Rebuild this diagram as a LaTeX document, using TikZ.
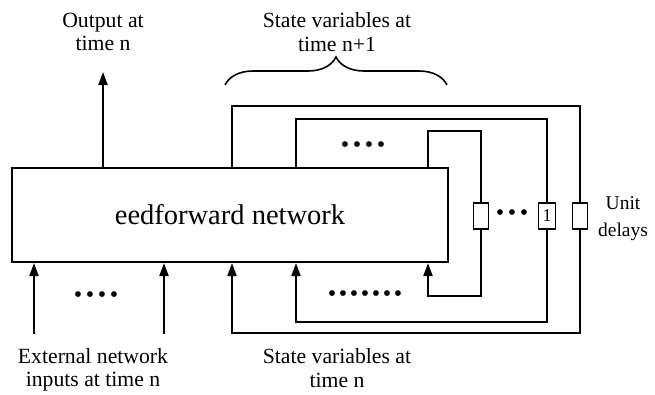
\documentclass[tikz,border=0pt]{standalone}
\usepackage{fontspec}
\setmainfont{Liberation Serif}
\usepackage{tikz}
\usetikzlibrary{positioning, calc, arrows.meta, decorations.pathreplacing}
\newcommand{\dotgap}{\hspace{3.6pt}}
\tikzset{
    netbox/.style={
        draw, line width=2pt, minimum width=436pt, minimum height=94pt,
        inner sep=0pt, font=\fontsize{28.5}{30}\selectfont
    },
    delaybox/.style={
        draw, line width=1.7pt, fill=white, minimum width=15pt,
        minimum height=26pt, inner sep=0pt, font=\fontsize{18}{18}\selectfont
    },
    wire/.style={
        line width=2pt
    },
    feed/.style={
        wire, -{Triangle[length=13pt, width=9pt]}
    },
    lbl/.style={
        align=center, font=\fontsize{21.7}{23.5}\selectfont
    },
    dotrow/.style={
        inner sep=0pt, font=\fontsize{24}{24}\selectfont
    }
}

\begin{document}
\begin{tikzpicture}[x=1pt, y=-1pt]
        \useasboundingbox (0,0) rectangle (655,394);

        % --- 1. NETWORK AND DELAYS ---
        \node[netbox] (net) at (230,215) {eedforward network};
        \node[delaybox] (d1) at (481,216) {};
        \node[delaybox, minimum width=17pt] (d2) at (547,216) {1};
        \node[delaybox] (d3) at (580,216) {};

        % --- 2. FEEDBACK LOOPS ---
        \coordinate (inT) at (428,131);
        \coordinate (inB) at (428,296);
        \coordinate (midT) at (296,119);
        \coordinate (midB) at (296,322);
        \coordinate (outT) at (232,106);
        \coordinate (outB) at (232,333);

        \draw[wire] (net.north -| inT) -- (inT) -| (d1.north);
        \draw[feed] (d1.south) |- (inB) -- (net.south -| inB);
        \draw[wire] (net.north -| midT) -- (midT) -| (d2.north);
        \draw[feed] (d2.south) |- (midB) -- (net.south -| midB);
        \draw[wire] (net.north -| outT) -- (outT) -| (d3.north);
        \draw[feed] (d3.south) |- (outB) -- (net.south -| outB);

        % --- 3. INPUTS AND OUTPUT ---
        \coordinate (ext1) at (34,334);
        \coordinate (ext2) at (164,334);
        \coordinate (outn) at (103,72);
        \draw[feed] (ext1) -- (net.south -| ext1);
        \draw[feed] (ext2) -- (net.south -| ext2);
        \draw[feed] (net.north -| outn) -- (outn);

        % --- 4. BRACE ---
        \coordinate (brL) at (225,85);
        \coordinate (brR) at (447,85);
        \draw[line width=1.6pt, decorate, decoration={brace, amplitude=28pt}] (brL) -- (brR);

        % --- 5. DOTS ---
        \node[dotrow] (dotsT) at (363,147) {•\dotgap•\dotgap•\dotgap•};
        \node[dotrow] (dotsD) at (512,215) {•\dotgap•\dotgap•};
        \node[dotrow] (dotsE) at (96,297) {•\dotgap•\dotgap•\dotgap•};
        \node[dotrow] (dotsS) at (365,296) {•\hspace{2.6pt}•\hspace{2.6pt}•\hspace{2.6pt}•\hspace{2.6pt}•\hspace{2.6pt}•\hspace{2.6pt}•};

        % --- 6. LABELS ---
        \node[lbl] (lblout) at (103,32) {Output at\\time n};
        \node[lbl] (lblnext) at (337,32) {State variables at\\time n+1};
        \node[lbl] (lblext) at (93,370) {External network\\inputs at time n};
        \node[lbl] (lblstate) at (337,368) {State variables at\\time n};
        \node[lbl, font=\fontsize{19.5}{27}\selectfont] (lbldelay) at (623,219) {Unit\\delays};

    \end{tikzpicture}
\end{document}
